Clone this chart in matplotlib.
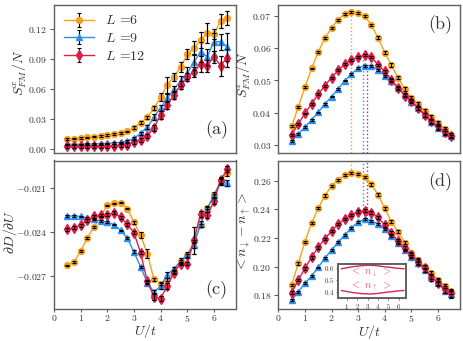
import matplotlib
matplotlib.use("Agg")
import matplotlib.pyplot as plt
from matplotlib.ticker import FuncFormatter, FixedLocator

plt.rcParams['font.family'] = 'serif'
plt.rcParams['font.serif'] = ['cmr10', 'DejaVu Serif']
plt.rcParams['mathtext.fontset'] = 'cm'
plt.rcParams['axes.formatter.use_mathtext'] = True

# ---------------- data ----------------
U = [0.5, 0.75, 1.0, 1.25, 1.5, 1.75, 2.0, 2.25, 2.5, 2.75, 3.0, 3.25, 3.5,
     3.75, 4.0, 4.25, 4.5, 4.75, 5.0, 5.25, 5.5, 5.75, 6.0, 6.25, 6.5]
labels = ["$L$ =6", "$L$ =9", "$L$ =12"]

a_L6 = [0.0100, 0.0104, 0.0110, 0.0117, 0.0124, 0.0130, 0.0140, 0.0150, 0.0160, 0.0177, 0.0214, 0.0264, 0.0318,
        0.0408, 0.0519, 0.0642, 0.0725, 0.0819, 0.0950, 0.1010, 0.1093, 0.1160, 0.1153, 0.1280, 0.1310]
a_L9 = [0.0047, 0.0047, 0.0047, 0.0050, 0.0050, 0.0053, 0.0057, 0.0060, 0.0067, 0.0080, 0.0107, 0.0157, 0.0218,
        0.0318, 0.0414, 0.0508, 0.0599, 0.0682, 0.0759, 0.0870, 0.0976, 0.0926, 0.1076, 0.1076, 0.1026]
a_L12 = [0.0030, 0.0030, 0.0030, 0.0031, 0.0031, 0.0032, 0.0033, 0.0034, 0.0036, 0.0040, 0.0070, 0.0090, 0.0130,
         0.0214, 0.0341, 0.0441, 0.0542, 0.0642, 0.0719, 0.0775, 0.0850, 0.0836, 0.0926, 0.0836, 0.0916]
a_e6 = [0.0008, 0.0008, 0.0008, 0.0008, 0.0008, 0.0008, 0.0008, 0.0008, 0.0008, 0.0008, 0.0012, 0.0015, 0.0015,
        0.002, 0.004, 0.008, 0.004, 0.005, 0.005, 0.007, 0.008, 0.010, 0.005, 0.007, 0.007]
a_e9 = [0.0008, 0.0008, 0.0008, 0.0008, 0.0008, 0.0008, 0.0008, 0.0008, 0.0008, 0.0008, 0.001, 0.0015, 0.002,
        0.003, 0.003, 0.004, 0.003, 0.005, 0.006, 0.008, 0.010, 0.008, 0.009, 0.008, 0.014]
a_e12 = [0.0018, 0.0018, 0.0018, 0.0018, 0.0018, 0.0018, 0.0018, 0.0018, 0.0018, 0.0018, 0.002, 0.002, 0.002,
         0.003, 0.004, 0.004, 0.004, 0.004, 0.004, 0.005, 0.008, 0.006, 0.006, 0.010, 0.009]

b_L6 = [0.0358, 0.0418, 0.0479, 0.0537, 0.0588, 0.0630, 0.0663, 0.0688, 0.0706, 0.0712, 0.0708, 0.0698, 0.0671,
        0.0632, 0.0586, 0.0548, 0.0508, 0.0474, 0.0446, 0.0426, 0.0406, 0.0388, 0.0369, 0.0350, 0.0332]
b_L9 = [0.0313, 0.0335, 0.0356, 0.0378, 0.0402, 0.0427, 0.0450, 0.0474, 0.0499, 0.0520, 0.0538, 0.0546, 0.0546,
        0.0533, 0.0515, 0.0499, 0.0476, 0.0456, 0.0435, 0.0414, 0.0392, 0.0373, 0.0354, 0.0337, 0.0327]
b_L12 = [0.0332, 0.0366, 0.0398, 0.0428, 0.0458, 0.0484, 0.0509, 0.0531, 0.0551, 0.0564, 0.0572, 0.0578, 0.0572,
         0.0548, 0.0528, 0.0502, 0.0478, 0.0453, 0.0437, 0.0414, 0.0394, 0.0375, 0.0358, 0.0342, 0.0330]
b_e6 = [0.0003, 0.0003, 0.0003, 0.0003, 0.0003, 0.0003, 0.0003, 0.0003, 0.0003, 0.0003, 0.0003, 0.0003, 0.0004,
        0.0004, 0.0005, 0.0005, 0.0005, 0.0005, 0.0005, 0.0006, 0.0006, 0.0006, 0.0007, 0.0007, 0.0007]
b_e9 = [0.0002, 0.0002, 0.0002, 0.0002, 0.0002, 0.0002, 0.0002, 0.0002, 0.0002, 0.0002, 0.0003, 0.0003, 0.0003,
        0.0003, 0.0003, 0.0004, 0.0004, 0.0004, 0.0004, 0.0005, 0.0006, 0.0006, 0.0006, 0.0006, 0.0006]
b_e12 = [0.0003, 0.0003, 0.0003, 0.0003, 0.0003, 0.0003, 0.0003, 0.0003, 0.0003, 0.0003, 0.0003, 0.0003, 0.0004,
         0.0004, 0.0004, 0.0005, 0.0005, 0.0005, 0.0005, 0.0006, 0.0007, 0.0007, 0.0007, 0.0007, 0.0007]

c_L6 = [-0.02625, -0.02603, -0.02528, -0.02439, -0.02364, -0.02291, -0.02216, -0.02202, -0.02198, -0.02238,
        -0.02330, -0.02420, -0.02545, -0.02720, -0.02750, -0.02720, -0.02666, -0.02598, -0.02557, -0.02461,
        -0.02352, -0.02234, -0.02148, -0.02052, -0.01993]
c_L9 = [-0.02289, -0.02289, -0.02291, -0.02303, -0.02311, -0.02323, -0.02330, -0.02348, -0.02386, -0.02439,
        -0.02534, -0.02637, -0.02743, -0.02807, -0.02768, -0.02689, -0.02648, -0.02598, -0.02552, -0.02489,
        -0.02341, -0.02239, -0.02148, -0.02057, -0.02061]
c_L12 = [-0.02380, -0.02368, -0.02352, -0.02318, -0.02291, -0.02284, -0.02279, -0.02268, -0.02296, -0.02346,
         -0.02402, -0.02541, -0.02734, -0.02841, -0.02852, -0.02766, -0.02675, -0.02614, -0.02614, -0.02455,
         -0.02273, -0.02284, -0.02189, -0.02045, -0.01970]
c_e6 = [0.00005, 0.00005, 0.00005, 0.00005, 0.00005, 0.00005, 0.00005, 0.00005, 0.00005, 0.00005, 0.0001, 0.0002,
        0.0003, 0.0001, 0.0001, 0.0001, 0.0001, 0.0002, 0.0001, 0.0001, 0.0001, 0.0001, 0.0001, 0.0002, 0.0002]
c_e9 = [0.00005, 0.00005, 0.00005, 0.00005, 0.00005, 0.00005, 0.00005, 0.00005, 0.00005, 0.00005, 0.0001, 0.0001,
        0.0001, 0.0001, 0.0002, 0.0002, 0.0001, 0.0001, 0.0002, 0.0002, 0.0002, 0.0002, 0.0002, 0.0002, 0.0002]
c_e12 = [0.0001, 0.0001, 0.0001, 0.0001, 0.0001, 0.0001, 0.0001, 0.0001, 0.0001, 0.0001, 0.0001, 0.0001,
         0.0001, 0.0002, 0.0002, 0.0002, 0.0001, 0.0001, 0.0001, 0.0009, 0.0002, 0.0002, 0.0002, 0.0002, 0.0002]

d_L6 = [0.1870, 0.2022, 0.2174, 0.2303, 0.2408, 0.2497, 0.2565, 0.2607, 0.2642, 0.2654, 0.2649, 0.2630, 0.2577,
        0.2502, 0.2408, 0.2314, 0.2244, 0.2167, 0.2093, 0.2046, 0.1999, 0.1952, 0.1905, 0.1863, 0.1823]
d_L9 = [0.1765, 0.1823, 0.1882, 0.1933, 0.1994, 0.2058, 0.2116, 0.2170, 0.2221, 0.2272, 0.2310, 0.2333, 0.2321,
        0.2298, 0.2261, 0.2214, 0.2167, 0.2116, 0.2069, 0.2027, 0.1975, 0.1928, 0.1886, 0.1830, 0.1805]
d_L12 = [0.1816, 0.1905, 0.1987, 0.2065, 0.2135, 0.2193, 0.2249, 0.2298, 0.2333, 0.2361, 0.2385, 0.2392, 0.2378,
         0.2345, 0.2291, 0.2237, 0.2179, 0.2128, 0.2081, 0.2034, 0.1987, 0.1924, 0.1886, 0.1840, 0.1812]
d_e6 = [0.0008, 0.0008, 0.0008, 0.0008, 0.0008, 0.0008, 0.0008, 0.0008, 0.0008, 0.0008, 0.0008, 0.0008, 0.0010,
        0.0010, 0.0010, 0.0010, 0.0012, 0.0012, 0.0012, 0.0015, 0.0015, 0.0015, 0.0015, 0.0015, 0.0018]
d_e9 = [0.0006, 0.0006, 0.0006, 0.0006, 0.0006, 0.0006, 0.0006, 0.0006, 0.0006, 0.0006, 0.0008, 0.0008, 0.0008,
        0.0008, 0.0008, 0.0010, 0.0010, 0.0010, 0.0012, 0.0012, 0.0015, 0.0015, 0.0015, 0.0018, 0.0025]
d_e12 = [0.0010, 0.0010, 0.0010, 0.0010, 0.0010, 0.0010, 0.0010, 0.0010, 0.0010, 0.0010, 0.0012, 0.0012, 0.0012,
         0.0012, 0.0012, 0.0012, 0.0015, 0.0015, 0.0015, 0.0020, 0.0025, 0.0025, 0.0025, 0.0025, 0.0025]

# peak positions (dotted guide lines)
peak_U = [2.75, 3.2, 3.35]
peak_b = [0.0712, 0.0577, 0.0546]
peak_d = [0.2654, 0.2400, 0.2330]

# inset: <n_down>, <n_up> for L=12
n_down = [0.591, 0.595, 0.599, 0.603, 0.607, 0.610, 0.612, 0.615, 0.617, 0.618, 0.619, 0.620, 0.619,
          0.617, 0.615, 0.612, 0.609, 0.606, 0.604, 0.602, 0.599, 0.596, 0.594, 0.592, 0.591]
n_up = [0.409, 0.405, 0.401, 0.397, 0.393, 0.390, 0.388, 0.385, 0.383, 0.382, 0.381, 0.380, 0.381,
        0.383, 0.385, 0.388, 0.391, 0.394, 0.396, 0.398, 0.401, 0.404, 0.406, 0.408, 0.409]

colors = ['#f5a11c', '#2b8ff0', '#dc1f48']
markers = ['o', '^', 'd']
spine_col = '#606060'
text_col = '#333333'

fig = plt.figure(figsize=(4.64, 3.41), dpi=100)
W, H = 464.0, 341.0

def add_axes(l, r, t, b):
    return fig.add_axes([l / W, 1 - b / H, (r - l) / W, (b - t) / H])

axA = add_axes(54, 236, 4.7, 153)
axB = add_axes(278.3, 460, 4.7, 153)
axC = add_axes(54, 236, 160.5, 308.5)
axD = add_axes(278.3, 460, 160.7, 309)

def fmt(dec):
    return FuncFormatter(lambda v, p: "$%.*f$" % (dec, v))

def draw(ax, ys, es):
    for y, e, c, m, lab in zip(ys, es, colors, markers, labels):
        ax.errorbar(U, y, yerr=e, fmt='-' + m, color=c, ms=4.2 if m != 'd' else 4.6,
                    lw=1.0, ecolor='k', elinewidth=0.8, capsize=1.6, capthick=0.8,
                    label=lab)
        ax.errorbar(U, y, yerr=e, fmt='none', ecolor='k', elinewidth=0.8,
                    capsize=1.6, capthick=0.8, zorder=4)

draw(axA, [a_L6, a_L9, a_L12], [a_e6, a_e9, a_e12])
draw(axB, [b_L6, b_L9, b_L12], [b_e6, b_e9, b_e12])
draw(axC, [c_L6, c_L9, c_L12], [c_e6, c_e9, c_e12])
draw(axD, [d_L6, d_L9, d_L12], [d_e6, d_e9, d_e12])

axA.set_ylim(-0.004, 0.1447)
axB.set_ylim(0.0276, 0.0734)
axC.set_ylim(-0.0292, -0.0191)
axD.set_ylim(0.1702, 0.2742)

axA.yaxis.set_major_locator(FixedLocator([0.0, 0.03, 0.06, 0.09, 0.12]))
axA.yaxis.set_major_formatter(fmt(2))
axB.yaxis.set_major_locator(FixedLocator([0.03, 0.04, 0.05, 0.06, 0.07]))
axB.yaxis.set_major_formatter(fmt(2))
axC.yaxis.set_major_locator(FixedLocator([-0.027, -0.024, -0.021]))
axC.yaxis.set_major_formatter(fmt(3))
axD.yaxis.set_major_locator(FixedLocator([0.18, 0.20, 0.22, 0.24, 0.26]))
axD.yaxis.set_major_formatter(fmt(2))

for ax in (axA, axB, axC, axD):
    ax.set_xlim(0, 6.83)
    for s in ax.spines.values():
        s.set_color(spine_col)
        s.set_linewidth(1.0)
    ax.tick_params(labelsize=7, labelcolor=text_col, color=spine_col, length=3, width=0.8, pad=2)

for ax in (axA, axB):
    ax.tick_params(axis='x', bottom=False, labelbottom=False)
for ax in (axC, axD):
    ax.xaxis.set_major_locator(FixedLocator([0, 1, 2, 3, 4, 5, 6]))
    ax.xaxis.set_major_formatter(fmt(0))
    ax.tick_params(axis='x', length=2, pad=1.2)
    ax.set_xlabel("$U/t$", fontsize=10, color=text_col)
    ax.xaxis.set_label_coords(0.5, -0.092)

axA.set_ylabel("$S^x_{FM}/N$", fontsize=10, color=text_col)
axB.set_ylabel("$S^z_{FM}/N$", fontsize=10, color=text_col)
axC.set_ylabel(r"$\partial D/\partial U$", fontsize=10, color=text_col)
axD.set_ylabel(r"$<n_\downarrow - n_\uparrow>$", fontsize=10, color=text_col)
axA.yaxis.set_label_coords(-0.135, 0.54)
axB.yaxis.set_label_coords(-0.14, 0.526)
axC.yaxis.set_label_coords(-0.195, 0.52)
axD.yaxis.set_label_coords(-0.14, 0.52)

axA.text(0.894, 0.155, "(a)", transform=axA.transAxes, ha='center', va='center', fontsize=13, color=text_col)
axB.text(0.89, 0.863, "(b)", transform=axB.transAxes, ha='center', va='center', fontsize=13, color=text_col)
axC.text(0.894, 0.125, "(c)", transform=axC.transAxes, ha='center', va='center', fontsize=13, color=text_col)
axD.text(0.89, 0.858, "(d)", transform=axD.transAxes, ha='center', va='center', fontsize=13, color=text_col)

leg = axA.legend(loc='upper left', frameon=False, fontsize=10, handlelength=2.2,
                 borderaxespad=0.3, labelspacing=0.35, handletextpad=0.8)
for t in leg.get_texts():
    t.set_color(text_col)

# dotted guide lines at the peaks
yb0 = axB.get_ylim()[0]
yd1 = axD.get_ylim()[1]
for u, pb, pd, c in zip(peak_U, peak_b, peak_d, colors):
    axB.vlines(u, yb0, pb, colors=c, linestyles=':', lw=1.0, zorder=1)
    axD.vlines(u, pd, yd1, colors=c, linestyles=':', lw=1.0, zorder=1)

# inset
axI = add_axes(337.7, 406, 264.3, 298.3)
axI.plot(U, n_down, color='#d8254f', lw=1.0)
axI.plot(U, n_up, color='#d8254f', lw=1.0)
axI.set_xlim(0.13, 6.7)
axI.set_ylim(0.344, 0.628)
axI.xaxis.set_major_locator(FixedLocator([1, 2, 3, 4, 5, 6]))
axI.xaxis.set_major_formatter(fmt(0))
axI.yaxis.set_major_locator(FixedLocator([0.4, 0.5, 0.6]))
axI.yaxis.set_major_formatter(fmt(1))
axI.tick_params(labelsize=5, length=1.5, width=0.6, pad=1, labelcolor=text_col, color=spine_col)
for s in axI.spines.values():
    s.set_color(spine_col)
    s.set_linewidth(1.4)
axI.text(3.3, 0.56, r"$<\ n_\downarrow\ >$", color='#e8507f', fontsize=7.5, ha='center', va='center')
axI.text(3.3, 0.445, r"$<\ n_\uparrow\ >$", color='#e8507f', fontsize=7.5, ha='center', va='center')

fig.savefig("out.png", dpi=100)
